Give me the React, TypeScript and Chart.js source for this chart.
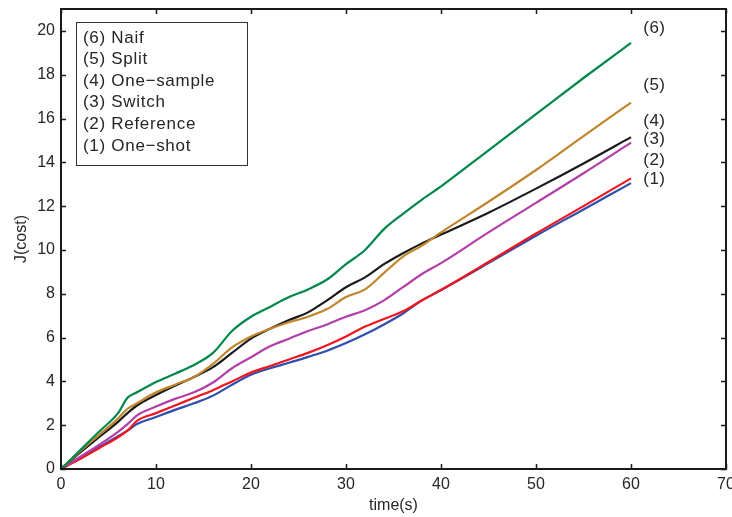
import React, { useEffect, useRef } from "react";
import { Chart, registerables } from "chart.js";
Chart.register(...registerables);

const times = [0, 2, 4, 6, 7, 8, 10, 12, 14, 16, 18, 20, 22, 24, 26, 28, 30, 32, 34, 36, 38, 40, 45, 50, 55, 60];
const naif = [0, 0.85, 1.7, 2.55, 3.25, 3.5, 3.97, 4.35, 4.75, 5.3, 6.3, 6.95, 7.4, 7.85, 8.2, 8.65, 9.35, 10.0, 10.95, 11.65, 12.3, 12.9, 14.55, 16.2, 17.85, 19.45];
const split = [0, 0.8, 1.55, 2.3, 2.75, 3.0, 3.5, 3.85, 4.2, 4.8, 5.55, 6.05, 6.4, 6.7, 6.95, 7.3, 7.85, 8.2, 8.95, 9.7, 10.2, 10.8, 12.2, 13.65, 15.2, 16.73];
const oneSample = [0, 0.75, 1.45, 2.15, 2.55, 2.9, 3.38, 3.8, 4.2, 4.65, 5.3, 5.95, 6.4, 6.8, 7.15, 7.7, 8.3, 8.75, 9.35, 9.85, 10.3, 10.7, 11.7, 12.8, 13.95, 15.15];
const switchS = [0, 0.55, 1.1, 1.7, 2.05, 2.45, 2.85, 3.2, 3.5, 3.95, 4.6, 5.1, 5.6, 5.95, 6.3, 6.6, 6.95, 7.25, 7.7, 8.3, 8.9, 9.4, 10.8, 12.15, 13.5, 14.9];
const reference = [0, 0.45, 0.95, 1.45, 1.75, 2.2, 2.55, 2.9, 3.25, 3.6, 4.0, 4.4, 4.7, 5.0, 5.3, 5.65, 6.05, 6.5, 6.85, 7.2, 7.7, 8.17, 9.45, 10.75, 12.0, 13.27];
const oneShot = [0, 0.5, 1.0, 1.5, 1.75, 2.05, 2.37, 2.7, 3.0, 3.35, 3.85, 4.3, 4.6, 4.85, 5.12, 5.4, 5.75, 6.15, 6.6, 7.1, 7.7, 8.17, 9.4, 10.65, 11.85, 13.05];

const legendLabels = ["(6) Naif", "(5) Split", "(4) One\u2212sample", "(3) Switch", "(2) Reference", "(1) One\u2212shot"];
const endTags = ["(6)", "(5)", "(4)", "(3)", "(2)", "(1)"];
const endTagValues = [20.1, 17.53, 15.85, 15.03, 14.1, 13.24];
const endTagTime = 61.3;

const FONT = '"Liberation Sans", Arial, Helvetica, sans-serif';
const TEXT = "#262626";

const series = [
  { data: naif, color: "#00874a" },
  { data: split, color: "#c0862c" },
  { data: oneSample, color: "#1a1a1a" },
  { data: switchS, color: "#b23fa8" },
  { data: reference, color: "#f0151f" },
  { data: oneShot, color: "#2e4fae" },
];

const framePlugin = {
  id: "frame",
  afterDatasetsDraw(chart: any) {
    const { ctx, chartArea: a, scales } = chart;
    const x = scales.x;
    const y = scales.y;
    ctx.save();
    ctx.strokeStyle = "#1a1a1a";
    ctx.lineWidth = 2;
    ctx.strokeRect(a.left, a.top, a.right - a.left, a.bottom - a.top);
    ctx.lineWidth = 1.5;
    const L = 5;
    ctx.beginPath();
    x.ticks.forEach((t: any) => {
      const p = Math.round(x.getPixelForValue(t.value)) + 0.5;
      ctx.moveTo(p, a.bottom);
      ctx.lineTo(p, a.bottom - L);
      ctx.moveTo(p, a.top);
      ctx.lineTo(p, a.top + L);
    });
    y.ticks.forEach((t: any) => {
      const p = Math.round(y.getPixelForValue(t.value)) + 0.5;
      ctx.moveTo(a.left, p);
      ctx.lineTo(a.left + L, p);
      ctx.moveTo(a.right, p);
      ctx.lineTo(a.right - L, p);
    });
    ctx.stroke();

    ctx.font = "17px " + FONT;
    try { (ctx as any).letterSpacing = "0.4px"; } catch (e) {}
    ctx.fillStyle = TEXT;
    ctx.textBaseline = "middle";
    ctx.textAlign = "left";
    endTags.forEach((t, i) => {
      ctx.fillText(t, x.getPixelForValue(endTagTime), y.getPixelForValue(endTagValues[i]));
    });

    // legend box
    const bx = a.left + 15.5;
    const by = a.top + 13.5;
    const bw = 171;
    const bh = 143;
    ctx.fillStyle = "#ffffff";
    ctx.fillRect(bx, by, bw, bh);
    ctx.strokeStyle = "#333";
    ctx.lineWidth = 1;
    ctx.strokeRect(bx, by, bw, bh);
    ctx.fillStyle = TEXT;
    try { (ctx as any).letterSpacing = "0.7px"; } catch (e) {}
    legendLabels.forEach((s, i) => {
      ctx.fillText(s, bx + 6.5, by + 15.5 + i * 21.6);
    });
    ctx.restore();
  },
};

export default function App() {
  const ref = useRef<HTMLCanvasElement | null>(null);
  useEffect(() => {
    if (!ref.current) return;
    const chart = new Chart(ref.current, {
      type: "line",
      data: {
        labels: times,
        datasets: series.map((s, i) => ({
          label: legendLabels[i],
          data: s.data.map((v, k) => ({ x: times[k], y: v })),
          borderColor: s.color,
          backgroundColor: s.color,
          borderWidth: 2.2,
          pointRadius: 0,
          cubicInterpolationMode: "monotone" as const,
          fill: false,
        })),
      },
      options: {
        animation: false,
        responsive: false,
        devicePixelRatio: 1,
        layout: { padding: { left: 0, top: 9, right: 6, bottom: 0 } },
        plugins: { legend: { display: false }, tooltip: { enabled: false } },
        scales: {
          x: {
            type: "linear",
            min: 0,
            max: 70,
            ticks: { stepSize: 10, padding: 6, color: TEXT, font: { family: FONT, size: 16 }, maxRotation: 0 },
            grid: { display: false, drawTicks: false },
            border: { display: false },
            title: { display: true, text: "time(s)", color: TEXT, font: { family: FONT, size: 16 }, padding: { top: 0, bottom: 2 } },
            afterFit(scale: any) {
              scale.height = 48;
              scale.paddingLeft = 0;
              scale.paddingRight = 0;
            },
          },
          y: {
            type: "linear",
            min: 0,
            max: 21,
            ticks: { stepSize: 2, padding: 6, color: TEXT, font: { family: FONT, size: 16 } },
            grid: { display: false, drawTicks: false },
            border: { display: false },
            title: { display: true, text: "J(cost)", color: TEXT, font: { family: FONT, size: 16 }, padding: { top: 12, bottom: 0 } },
            afterBuildTicks(scale: any) {
              scale.ticks = scale.ticks.filter((t: any) => t.value % 2 === 0);
            },
            afterFit(scale: any) {
              scale.width = 61;
              scale.paddingTop = 0;
              scale.paddingBottom = 0;
            },
          },
        },
      },
      plugins: [framePlugin],
    } as any);
    return () => chart.destroy();
  }, []);
  return (
    <div style={{ position: "fixed", left: 0, top: 0, width: 732, height: 517, background: "#fff" }}>
      <canvas ref={ref} width={732} height={517} style={{ display: "block" }} />
    </div>
  );
}
